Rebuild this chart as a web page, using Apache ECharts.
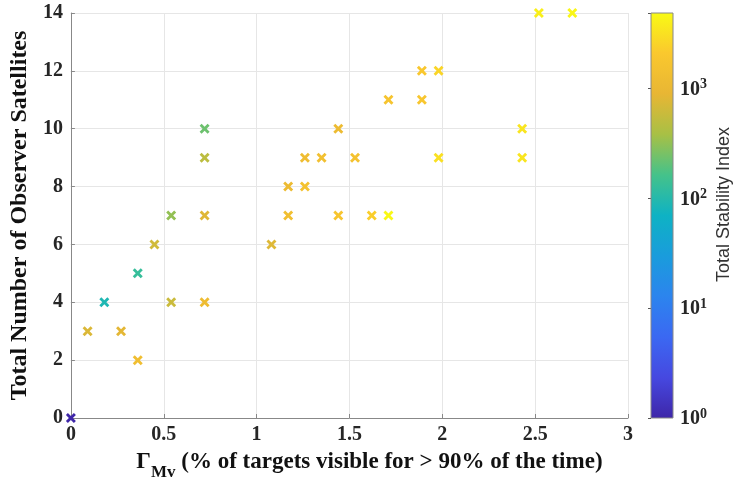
<!DOCTYPE html>
<html>
<head>
<meta charset="utf-8">
<script src="https://cdn.jsdelivr.net/npm/echarts@6/dist/echarts.min.js"></script>
<style>
  html, body { margin: 0; padding: 0; background: #fff; }
  #chart { width: 735px; height: 491px; }
</style>
</head>
<body>
<div id="chart"></div>
<script>
// x: % of targets visible for > 90% of the time
const gammaMv = [
  0, 0.09, 0.18, 0.27, 0.36, 0.36, 0.45, 0.54, 0.54, 0.72, 0.72, 0.72, 0.72,
  1.08, 1.17, 1.17, 1.26, 1.26, 1.35, 1.44, 1.44, 1.53, 1.62, 1.71, 1.71,
  1.89, 1.89, 1.98, 1.98, 2.43, 2.43, 2.52, 2.70
]
// y: total number of observer satellites
const observerCount = [
  0, 3, 4, 3, 5, 2, 6, 7, 4, 10, 9, 7, 4,
  6, 8, 7, 9, 8, 9, 10, 7, 9, 7, 7, 11,
  11, 12, 12, 9, 10, 9, 14, 14
]
// colour: total stability index
const stabilityIndex = [
  1, 750, 90, 850, 130, 1300, 650, 320, 600, 230, 500, 800, 1200,
  780, 1150, 1400, 1250, 1600, 1450, 1150, 1800, 1600, 2300, 4700, 1700,
  1900, 2000, 2600, 3100, 3400, 3400, 4000, 4500
]

const xTicks = [0, 0.5, 1, 1.5, 2, 2.5, 3]
const yTicks = [0, 2, 4, 6, 8, 10, 12, 14]
const colorRange = [1, 4900]

const parula = [
  '#3e26a8', '#4648e0', '#3b68f2', '#2c84ee', '#1a9cdc', '#0eb2c4',
  '#45c28a', '#a8c045', '#e8b634', '#fac82e', '#f9fb14'
]

const serif = '"Liberation Serif", "Times New Roman", serif'
const xMark = 'path://M2,0L5,3L8,0L10,2L7,5L10,8L8,10L5,7L2,10L0,8L3,5L0,2Z'

const points = gammaMv.map((x, i) => [x, observerCount[i], Math.log10(stabilityIndex[i]), stabilityIndex[i]])

const chart = echarts.init(document.getElementById('chart'))

const tickLabel = {
  fontFamily: serif,
  fontWeight: 'bold',
  fontSize: 20,
  color: '#262626'
}

chart.setOption({
  animation: false,
  grid: [
    { left: 70, top: 13, right: 107, bottom: 73, containLabel: false },
    { left: 651, top: 13, width: 22, bottom: 73, containLabel: false }
  ],
  xAxis: [
    {
      gridIndex: 0,
      type: 'value',
      min: xTicks[0],
      max: xTicks[xTicks.length - 1],
      interval: 0.5,
      name: '{g|Γ}{sub|Mv}{g| (% of targets visible for > 90% of the time)}',
      nameLocation: 'middle',
      nameGap: 33,
      nameTextStyle: {
        padding: [0, 0, 0, 40],
        rich: {
          g: { fontFamily: serif, fontWeight: 'bold', fontSize: 23, color: '#111', verticalAlign: 'top', lineHeight: 25 },
          sub: { fontFamily: serif, fontWeight: 'bold', fontSize: 17, color: '#111', verticalAlign: 'top', padding: [13, 0, 0, 0], lineHeight: 17 }
        }
      },
      axisLine: { show: true, lineStyle: { color: '#888', width: 1 } },
      axisTick: { show: true, inside: true, length: 4, lineStyle: { color: '#888' } },
      axisLabel: { ...tickLabel, margin: 7 },
      splitLine: { show: true, lineStyle: { color: '#e6e6e6', width: 1 } }
    },
    {
      gridIndex: 1,
      type: 'value',
      min: 0,
      max: 1,
      show: false
    }
  ],
  yAxis: [
    {
      gridIndex: 0,
      type: 'value',
      min: yTicks[0],
      max: yTicks[yTicks.length - 1],
      interval: 2,
      name: 'Total Number of Observer Satellites',
      nameLocation: 'middle',
      nameGap: 35,
      nameTextStyle: { fontFamily: serif, fontWeight: 'bold', fontSize: 24, color: '#111' },
      axisLine: { show: true, lineStyle: { color: '#888', width: 1 } },
      axisTick: { show: true, inside: true, length: 4, lineStyle: { color: '#888' } },
      axisLabel: { ...tickLabel, margin: 8 },
      splitLine: { show: true, lineStyle: { color: '#e6e6e6', width: 1 } }
    },
    {
      gridIndex: 1,
      type: 'log',
      logBase: 10,
      min: colorRange[0],
      max: colorRange[1],
      position: 'right',
      name: 'Total Stability Index',
      nameLocation: 'middle',
      nameRotate: 90,
      nameGap: 42,
      nameTextStyle: {
        fontFamily: '"Liberation Sans", Arial, sans-serif',
        fontSize: 18,
        color: '#333',
        padding: [0, 0, 0, 22]
      },
      axisLine: { show: false },
      axisTick: { show: true, inside: true, length: 3, lineStyle: { color: '#555' } },
      splitLine: { show: false },
      axisLabel: {
        margin: 7,
        formatter: (v) => {
          const p = Math.round(Math.log10(v))
          if (Math.abs(Math.pow(10, p) - v) > 1e-6 * v) return ''
          return '{b|10}{s|' + p + '}'
        },
        rich: {
          b: { fontFamily: serif, fontWeight: 'bold', fontSize: 20, color: '#262626', verticalAlign: 'bottom', lineHeight: 22 },
          s: { fontFamily: serif, fontWeight: 'bold', fontSize: 14, color: '#262626', verticalAlign: 'top', lineHeight: 14, padding: [0, 0, 7, 0] }
        }
      }
    }
  ],
  visualMap: {
    type: 'continuous',
    show: false,
    seriesIndex: 0,
    dimension: 2,
    min: Math.log10(colorRange[0]),
    max: Math.log10(colorRange[1]),
    inRange: { color: parula }
  },
  series: [
    {
      type: 'scatter',
      xAxisIndex: 0,
      yAxisIndex: 0,
      data: points,
      symbol: xMark,
      symbolSize: 10,
      itemStyle: { opacity: 1 },
      clip: false
    },
    {
      type: 'custom',
      xAxisIndex: 1,
      yAxisIndex: 1,
      data: [[0, colorRange[0]]],
      silent: true,
      renderItem: (params, api) => {
        const topLeft = api.coord([0, colorRange[1]])
        const bottomRight = api.coord([1, colorRange[0]])
        return {
          type: 'rect',
          shape: {
            x: topLeft[0],
            y: topLeft[1],
            width: bottomRight[0] - topLeft[0],
            height: bottomRight[1] - topLeft[1]
          },
          style: {
            fill: new echarts.graphic.LinearGradient(0, 1, 0, 0,
              parula.map((c, i) => ({ offset: i / (parula.length - 1), color: c }))),
            stroke: '#888',
            lineWidth: 1
          }
        }
      }
    }
  ]
})
</script>
</body>
</html>
